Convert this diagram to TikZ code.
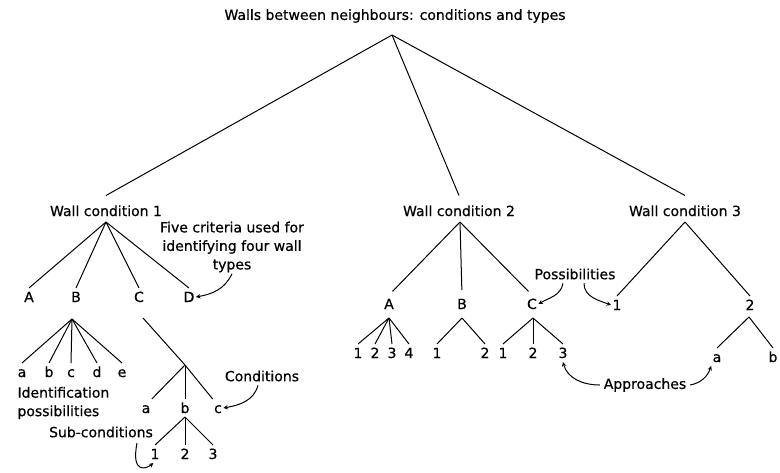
\documentclass[tikz,border=0pt]{standalone}
\usepackage{fontspec}
\setmainfont{DejaVu Sans}[UprightFeatures={FakeBold=0.6}]
\begin{document}
\begin{tikzpicture}[x=1pt,y=-1pt,line width=1pt,>=stealth,
  every node/.style={font=\fontsize{14}{18.5}\selectfont},
  head/.style={inner ysep=10pt,inner xsep=1pt,text height=10pt,text depth=0pt},
  leaf/.style={inner ysep=3.5pt,inner xsep=1pt,text height=10pt,text depth=0pt},
  note/.style={align=center,inner sep=1pt}]
\useasboundingbox (0,0) rectangle (780,472);

%Top level
\node (title) at (395,16) {Walls between neighbours: conditions and types};
\coordinate (tap) at (392,35);
\node[head] (wc1) at (106,211) {Wall condition 1};
\node[head] (wc2) at (459,211) {Wall condition 2};
\node[head] (wc3) at (685,211) {Wall condition 3};
\draw (tap) -- (wc1.north);
\draw (tap) -- (wc2.north);
\draw (tap) -- (wc3.north);

% Wall condition 1
\coordinate (ap1) at (106,222);
\foreach \n/\x in {A/29,B/76,C/139,D/189}{
  \node[leaf] (w1\n) at (\x,297) {\n};
  \draw (ap1) -- (w1\n.north);
}
\coordinate (apB) at (72,319);
\foreach \n/\x in {a/22,b/49,c/71,d/97,e/122}{
  \node[leaf] (b\n) at (\x,372) {\n};
  \draw (apB) -- (b\n.north);
}
\coordinate (cst) at (143,318);
\coordinate (apC) at (185,365);
\node[leaf] (ca) at (146,408) {a};
\node[leaf] (cb) at (185,408) {b};
\node[leaf] (cc) at (218,408) {c};
\draw (cst) -- (apC) -- (cc.north west);
\draw (apC) -- (ca.north east);
\draw (apC) -- (cb.north);
\coordinate (apb) at (185,417);
\foreach \n/\x in {1/155,2/185,3/213}{
  \node[leaf] (s\n) at (\x,454) {\n};
  \draw (apb) -- (s\n.north);
}

% Wall condition 2
\coordinate (ap2) at (460,222);
\foreach \n/\x in {A/389,B/462,C/532}{
  \node[leaf] (w2\n) at (\x,304) {\n};
  \draw[shorten >=5pt] (ap2) -- (w2\n.north);
}
\coordinate (apA2) at (389,318);
\foreach \n/\x in {1/358,2/375,3/392,4/409}{
  \node[leaf] (a2\n) at (\x,353) {\n};
  \draw (apA2) -- (a2\n.north);
}
\coordinate (apB2) at (462,318);
\foreach \n/\x in {1/437,2/485}{
  \node[leaf] (b2\n) at (\x,353) {\n};
  \draw (apB2) -- (b2\n.north);
}
\coordinate (apC2) at (533,318);
\foreach \n/\x in {1/503,2/533,3/563}{
  \node[leaf] (c2\n) at (\x,353) {\n};
  \draw (apC2) -- (c2\n.north);
}

% Wall condition 3
\coordinate (ap3) at (685,222);
\node[leaf] (w3a) at (617,305) {1};
\node[leaf] (w3b) at (750,305) {2};
\draw (ap3) -- (w3a.north);
\draw (ap3) -- (w3b.north);
\coordinate (apw3) at (749,317);
\node[leaf] (w3ta) at (717,357) {a};
\node[leaf] (w3tb) at (773,357) {b};
\draw (apw3) -- (w3ta.north);
\draw (apw3) -- (w3tb.north);

%Labels
\node[note] (five) at (232,247) {Five criteria used for\\identifying four wall\\types};
\draw[->] (five.south) to[out=-115,in=10] (w1D.east);
\node (cond) at (262,376) {Conditions};
\draw[->] ([xshift=-4pt]cond.south) to[out=-105,in=10] (cc.east);
\node[align=left,anchor=west,inner sep=1pt] (ident) at (16,403) {Identification\\possibilities};
\node[inner sep=1pt] (subc) at (101,432) {Sub-conditions};
\coordinate (hk) at (137,443);
\draw[->] (hk) .. controls (131,474) and (146,469) .. (s1.-100);
\node (poss) at (575,274) {Possibilities};
\draw[->] ([xshift=-12pt]poss.south) to[out=-100,in=30] (w2C.east);
\draw[->] ([xshift=9pt]poss.south) to[out=-90,in=160] (w3a.west);
\node (app) at (645,385) {Approaches};
\draw[->] (app.west) to[out=180,in=-75] (c23.south);
\draw[->] (app.east) to[out=10,in=-110] (w3ta.south west);
\end{tikzpicture}
\end{document}
